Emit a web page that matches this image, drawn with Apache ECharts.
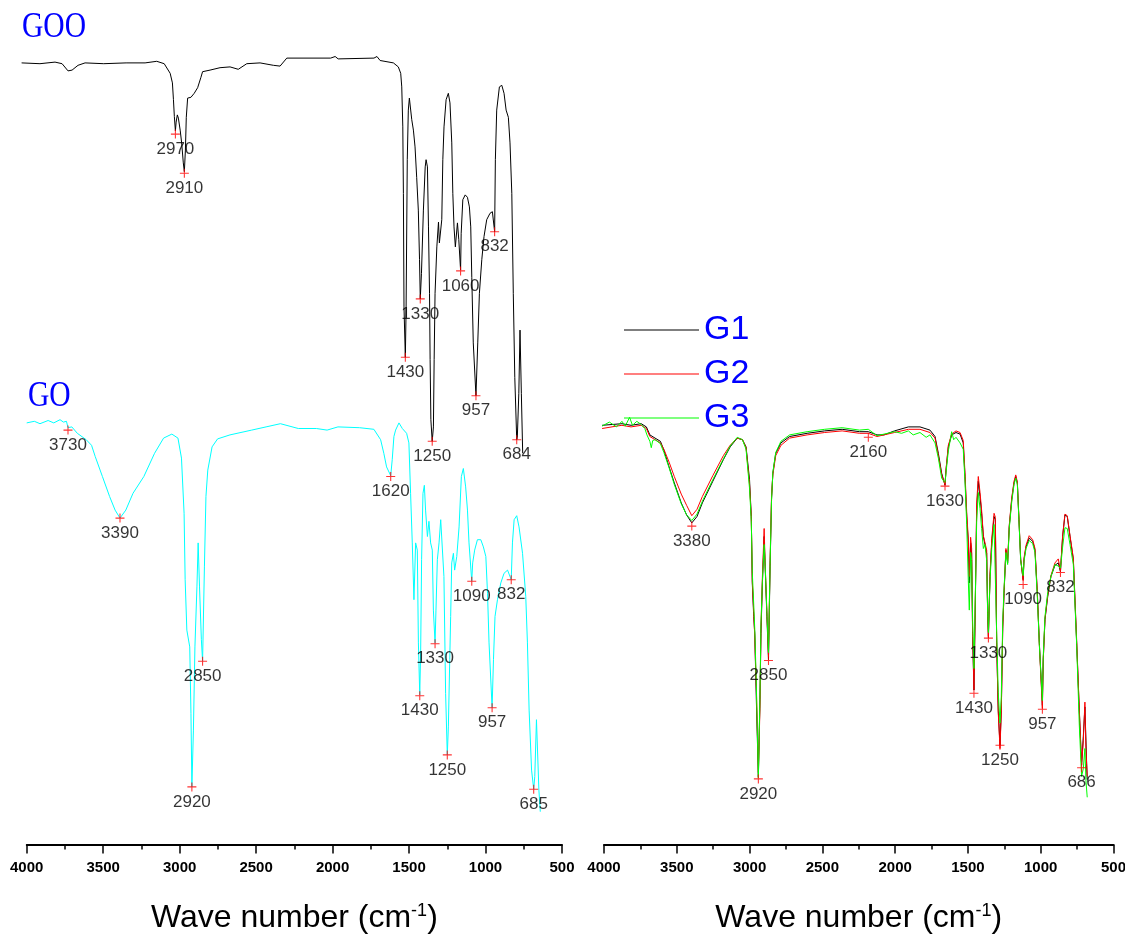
<!DOCTYPE html>
<html>
<head>
<meta charset="utf-8">
<title>FTIR spectra</title>
<script src="https://cdn.jsdelivr.net/npm/echarts@6/dist/echarts.min.js"></script>
</head>
<body style="margin:0">
<div id="main" style="width:1125px;height:938px;"></div>
<script type="text/javascript">
// spectra: [wave number (cm-1), transmittance (a.u.)]
var gooSpectrum = [[4000,97.7],[3877,97.6],[3776,97.8],[3729,97.6],[3689,96.7],[3662,96.8],[3622,97.4],[3575,97.7],[3450,97.6],[3300,97.7],[3173,97.7],[3095,97.9],[3045,97.6],[3005,96.4],[2990,95.2],[2983,93.1],[2977,91.0],[2970,89.2],[2965,90.3],[2957,91.2],[2950,90.8],[2938,89.3],[2928,87.7],[2917,85.2],[2910,84.1],[2903,86.8],[2897,90.9],[2888,93.3],[2866,93.4],[2844,93.9],[2821,94.6],[2799,95.9],[2788,96.6],[2738,96.8],[2671,97.1],[2604,97.2],[2549,96.9],[2492,97.6],[2403,97.7],[2314,97.4],[2269,97.3],[2224,98.3],[1930,98.3],[1900,98.5],[1880,98.2],[1640,98.3],[1620,98.5],[1599,98.0],[1510,97.7],[1477,97.2],[1461,96.4],[1454,94.7],[1447,89.7],[1443,81.4],[1439,67.2],[1430,60.9],[1425,66.8],[1417,85.6],[1410,91.8],[1403,93.3],[1394,93.1],[1387,90.6],[1376,89.3],[1365,87.2],[1354,83.4],[1343,79.3],[1335,73.1],[1330,68.2],[1322,71.4],[1309,79.3],[1297,84.7],[1291,85.6],[1282,84.7],[1275,77.2],[1268,68.9],[1264,60.6],[1259,53.1],[1250,50.4],[1242,52.2],[1237,60.6],[1231,68.9],[1219,74.7],[1208,77.8],[1202,75.2],[1193,75.2],[1186,78.1],[1179,85.6],[1171,89.7],[1157,93.1],[1142,93.9],[1131,92.7],[1119,87.7],[1112,81.4],[1104,77.2],[1095,74.7],[1081,77.7],[1072,75.6],[1060,71.8],[1056,76.4],[1045,80.6],[1029,81.2],[1014,80.9],[1001,79.7],[992,77.2],[985,70.9],[975,62.7],[957,56.1],[945,62.7],[934,68.9],[918,73.1],[903,76.0],[885,78.1],[863,78.9],[847,79.1],[832,76.6],[827,85.6],[818,91.8],[800,94.7],[784,94.9],[769,93.9],[755,91.8],[740,90.9],[729,87.7],[717,81.4],[707,68.9],[697,58.4],[684,50.6],[680,50.9],[670,56.4],[662,64.3],[653,56.4],[644,48.9]];

var goSpectrum = [[4000,52.7],[3950,52.9],[3913,52.6],[3860,53.0],[3823,52.7],[3782,53.1],[3760,52.8],[3740,52.9],[3730,52.1],[3705,52.2],[3669,51.4],[3611,50.6],[3576,49.9],[3552,48.5],[3505,46.0],[3458,43.5],[3422,41.8],[3390,40.8],[3352,41.8],[3305,43.9],[3234,46.0],[3164,48.9],[3105,50.8],[3051,51.3],[3011,50.8],[2988,48.3],[2971,41.4],[2964,33.1],[2953,26.8],[2934,24.7],[2926,16.4],[2920,7.2],[2910,14.3],[2900,24.7],[2887,32.2],[2879,37.7],[2870,32.2],[2858,25.6],[2850,22.9],[2838,34.7],[2828,43.5],[2816,46.8],[2788,49.7],[2752,50.7],[2671,51.2],[2529,51.8],[2435,52.2],[2341,52.6],[2224,52.0],[2106,52.0],[2036,51.8],[1965,52.2],[1824,52.1],[1730,51.9],[1686,50.6],[1665,48.9],[1647,47.2],[1620,46.1],[1610,48.1],[1599,51.0],[1588,51.8],[1566,52.7],[1544,52.0],[1516,51.4],[1501,50.2],[1490,43.9],[1479,37.7],[1468,30.6],[1457,37.7],[1446,36.8],[1439,25.2],[1430,18.7],[1424,24.3],[1418,35.6],[1409,43.9],[1400,44.9],[1392,41.8],[1380,38.5],[1370,40.4],[1359,37.7],[1348,36.8],[1341,29.3],[1330,25.2],[1324,29.3],[1315,35.6],[1304,37.7],[1293,40.6],[1282,40.6],[1272,33.5],[1261,18.9],[1250,11.2],[1243,14.7],[1234,23.1],[1228,28.5],[1221,35.2],[1210,36.4],[1202,34.3],[1188,36.0],[1173,39.7],[1158,46.0],[1145,47.0],[1130,44.7],[1118,41.8],[1108,37.7],[1090,32.9],[1084,35.2],[1071,36.8],[1053,38.1],[1031,38.1],[1014,37.2],[998,36.0],[987,31.4],[977,25.2],[957,17.1],[948,23.1],[938,28.5],[922,30.6],[900,32.7],[879,33.9],[856,34.3],[832,33.1],[824,37.7],[813,40.6],[796,41.1],[781,39.7],[758,36.4],[737,31.0],[726,25.2],[715,16.8],[699,9.3],[685,6.9],[678,8.5],[667,15.6],[660,15.6],[651,6.8],[642,4.1]];

var g1Spectrum = [[4000,52.4],[3863,52.6],[3800,52.4],[3730,52.6],[3694,52.2],[3670,51.2],[3634,50.8],[3597,50.4],[3573,49.3],[3537,47.2],[3501,45.2],[3453,42.7],[3416,41.2],[3380,40.2],[3344,41.0],[3307,42.7],[3235,45.4],[3162,48.1],[3115,49.7],[3066,50.8],[3030,50.6],[3005,49.7],[2981,45.6],[2969,41.0],[2962,32.7],[2952,28.5],[2945,26.4],[2934,18.1],[2920,8.4],[2909,18.1],[2902,26.4],[2892,32.7],[2880,38.5],[2873,34.7],[2861,28.5],[2850,23.1],[2839,34.7],[2829,43.1],[2820,46.4],[2800,48.9],[2764,50.2],[2704,51.0],[2583,51.4],[2462,51.7],[2341,51.9],[2221,51.6],[2160,51.6],[2100,51.2],[2052,51.2],[1979,51.7],[1883,52.2],[1803,52.2],[1734,51.8],[1699,51.0],[1676,48.9],[1653,46.4],[1630,44.9],[1623,46.8],[1607,49.7],[1584,51.2],[1554,51.5],[1526,51.3],[1504,50.2],[1492,46.0],[1480,41.0],[1469,37.7],[1462,32.7],[1453,37.7],[1446,36.4],[1439,26.0],[1430,19.3],[1423,27.2],[1411,41.8],[1400,45.4],[1388,43.5],[1377,41.4],[1365,38.5],[1354,38.3],[1342,36.4],[1335,28.5],[1330,26.0],[1319,33.5],[1307,37.7],[1291,41.0],[1282,40.6],[1273,25.2],[1262,16.8],[1250,12.4],[1241,16.8],[1231,27.2],[1222,31.4],[1209,36.8],[1197,35.2],[1186,39.7],[1169,43.1],[1153,45.2],[1141,46.0],[1130,45.2],[1119,40.6],[1107,35.6],[1090,33.1],[1084,35.6],[1070,37.2],[1048,38.3],[1024,37.9],[1008,36.8],[992,31.4],[978,25.2],[957,17.4],[951,23.1],[939,28.1],[920,31.0],[898,33.5],[870,34.9],[847,35.2],[832,34.1],[817,38.5],[801,41.2],[785,41.0],[766,38.5],[743,35.6],[720,25.2],[702,16.8],[686,9.9],[674,13.5],[663,17.2],[651,10.1],[647,8.1]];

var g2Spectrum = [[4000,52.0],[3900,52.3],[3863,52.4],[3800,52.2],[3730,52.4],[3694,52.0],[3670,51.0],[3634,50.6],[3597,50.2],[3573,49.4],[3537,47.8],[3501,46.0],[3453,43.8],[3416,42.4],[3380,41.1],[3344,41.9],[3307,43.5],[3235,46.1],[3162,48.6],[3115,49.9],[3066,50.8],[3030,50.6],[3005,49.6],[2981,45.0],[2969,41.0],[2962,33.0],[2952,29.0],[2945,26.0],[2934,19.5],[2920,9.0],[2909,17.0],[2902,27.0],[2892,33.5],[2880,39.5],[2873,35.0],[2861,29.0],[2850,23.5],[2839,35.5],[2829,43.5],[2820,46.2],[2800,48.6],[2764,49.9],[2704,50.8],[2583,51.2],[2462,51.5],[2341,51.7],[2221,51.4],[2160,51.4],[2100,51.0],[2052,51.2],[1979,51.5],[1883,51.9],[1803,51.9],[1734,51.5],[1699,50.8],[1676,48.6],[1653,46.2],[1630,45.0],[1623,46.9],[1607,49.9],[1584,51.3],[1554,51.7],[1526,51.5],[1504,50.5],[1492,46.5],[1480,41.5],[1469,38.2],[1462,33.5],[1453,38.4],[1446,37.0],[1439,26.5],[1430,19.4],[1423,27.5],[1411,42.7],[1400,46.0],[1388,44.0],[1377,41.8],[1365,38.6],[1354,38.8],[1342,36.8],[1335,28.8],[1330,25.8],[1319,33.8],[1307,38.2],[1291,41.4],[1282,40.9],[1273,25.4],[1262,16.5],[1250,12.0],[1241,16.5],[1231,27.0],[1222,31.5],[1209,37.0],[1197,35.4],[1186,39.9],[1169,43.3],[1153,45.4],[1141,46.2],[1130,45.3],[1119,40.8],[1107,35.7],[1090,33.0],[1084,35.8],[1070,37.4],[1048,38.6],[1024,38.1],[1008,37.0],[992,31.6],[978,25.0],[957,17.0],[951,23.0],[939,28.2],[920,31.2],[898,33.6],[870,35.2],[847,35.7],[832,34.2],[817,38.6],[801,41.3],[785,41.1],[766,38.6],[743,35.8],[720,25.5],[702,17.0],[686,10.0],[674,13.0],[663,17.8],[656,12.0],[647,8.5]];

var g3Spectrum = [[4000,52.3],[3950,52.8],[3900,52.2],[3863,52.9],[3840,52.3],[3810,53.4],[3790,52.4],[3760,52.9],[3730,52.5],[3705,52.0],[3690,51.2],[3670,50.4],[3660,49.6],[3650,50.5],[3634,50.6],[3597,50.1],[3573,49.0],[3537,47.1],[3501,45.0],[3453,42.6],[3416,41.2],[3380,40.5],[3344,41.3],[3307,42.9],[3235,45.6],[3162,48.2],[3115,49.8],[3066,50.9],[3030,50.6],[3005,49.4],[2981,44.5],[2969,40.5],[2962,34.0],[2952,30.0],[2945,27.0],[2934,20.0],[2920,8.3],[2909,18.5],[2902,27.5],[2892,33.0],[2880,37.5],[2873,35.0],[2861,29.0],[2850,24.0],[2839,35.0],[2829,43.0],[2820,46.5],[2800,49.0],[2764,50.4],[2704,51.2],[2583,51.6],[2462,51.9],[2341,52.1],[2221,51.8],[2160,51.9],[2100,51.1],[2052,51.3],[1979,51.6],[1930,51.4],[1883,51.7],[1850,51.2],[1803,51.5],[1760,50.9],[1734,51.2],[1699,50.2],[1676,48.3],[1653,45.8],[1630,45.2],[1623,46.5],[1607,49.2],[1584,51.6],[1570,50.6],[1554,50.9],[1526,50.2],[1504,49.4],[1492,45.5],[1480,40.0],[1469,33.0],[1462,29.3],[1453,36.5],[1446,35.5],[1439,28.0],[1430,22.0],[1423,28.5],[1411,40.5],[1400,44.0],[1388,42.0],[1377,39.5],[1365,37.0],[1354,37.5],[1342,35.5],[1335,29.0],[1330,26.5],[1319,33.0],[1307,37.0],[1291,40.0],[1282,40.0],[1273,26.5],[1262,19.0],[1250,15.2],[1241,18.5],[1231,28.0],[1222,32.0],[1209,36.5],[1197,35.0],[1186,39.5],[1169,42.8],[1153,45.0],[1141,45.8],[1130,45.0],[1119,40.5],[1107,35.5],[1090,33.6],[1084,35.4],[1070,37.0],[1048,38.0],[1024,37.6],[1008,36.5],[992,31.0],[978,25.0],[957,18.0],[951,23.5],[939,28.5],[920,31.5],[898,33.5],[870,35.0],[847,34.8],[832,34.5],[817,37.2],[801,39.6],[785,39.5],[766,37.5],[743,35.0],[720,25.0],[702,15.0],[686,8.5],[674,9.5],[663,12.0],[656,8.0],[647,5.9]];

// labelled peaks: wave number and the level of the red cross
var gooPeakWave = [2970, 2910, 1430, 1330, 1250, 1060, 957, 832, 684];
var gooPeakLevel = [88.8, 83.9, 60.9, 68.2, 50.4, 71.7, 56.1, 76.6, 50.6];
var goPeakWave = [3730, 3390, 2920, 2850, 1620, 1430, 1330, 1250, 1090, 957, 832, 685];
var goPeakLevel = [51.8, 40.8, 7.2, 22.9, 46.0, 18.6, 25.1, 11.2, 32.9, 17.1, 33.1, 6.9];
var gPeakWave = [3380, 2920, 2850, 2160, 1630, 1430, 1330, 1250, 1090, 957, 832, 686];
var gPeakLevel = [39.8, 8.2, 23.0, 50.9, 44.8, 18.9, 25.8, 12.4, 32.5, 16.9, 34.0, 9.6];

var xTicks = [4000, 3500, 3000, 2500, 2000, 1500, 1000, 500];

var myChart = echarts.init(document.getElementById('main'));

var sans = '"Liberation Sans", Arial, sans-serif';

function waveAxis(gridIndex, visible) {
    var axis = {
        type: 'value',
        gridIndex: gridIndex,
        inverse: true,
        min: xTicks[xTicks.length - 1],
        max: xTicks[0],
        interval: 500,
        show: visible,
        splitLine: { show: false },
        axisLine: { show: true, lineStyle: { color: '#000', width: 1.8 } },
        axisTick: { show: true, length: 9, lineStyle: { color: '#000', width: 1.5 } },
        minorTick: { show: true, splitNumber: 2, length: 5, lineStyle: { color: '#000', width: 1.5 } },
        axisLabel: {
            margin: 16,
            color: '#000',
            fontSize: 15,
            fontWeight: 'bold',
            fontFamily: sans,
            formatter: function (v) { return String(v); }
        }
    };
    if (visible) {
        axis.name = '{a|Wave number (cm}{s|-1}{a|)}';
        axis.nameLocation = 'middle';
        axis.nameGap = 58;
        axis.nameTextStyle = {
            rich: {
                a: { fontSize: 32, fontFamily: sans, color: '#000' },
                s: { fontSize: 18, fontFamily: sans, color: '#000', verticalAlign: 'top' }
            }
        };
    }
    return axis;
}

function levelAxis(gridIndex) {
    return { type: 'value', gridIndex: gridIndex, min: 0, max: 100, show: false };
}

function spectrum(name, data, color, axisIndex) {
    return {
        name: name,
        type: 'line',
        data: data,
        xAxisIndex: axisIndex,
        yAxisIndex: axisIndex,
        symbol: 'none',
        lineStyle: { color: color, width: 1 },
        itemStyle: { color: color },
        silent: true
    };
}

function peaks(waves, levels, axisIndex) {
    return {
        type: 'scatter',
        xAxisIndex: axisIndex,
        yAxisIndex: axisIndex,
        symbol: 'path://M4.4,0h1.2v4.4h4.4v1.2h-4.4v4.4h-1.2v-4.4h-4.4v-1.2h4.4z',
        symbolSize: 9,
        itemStyle: { color: '#ff0000' },
        label: {
            show: true,
            position: 'bottom',
            distance: 2,
            color: '#000',
            fontSize: 17,
            fontFamily: sans,
            formatter: function (p) { return p.name; }
        },
        data: waves.map(function (w, i) {
            return { name: String(w), value: [w, levels[i]] };
        }),
        z: 5
    };
}

var option = {
    animation: false,
    backgroundColor: '#fff',
    textStyle: { fontFamily: sans },
    grid: [
        { left: 26.7, top: 44.5, width: 535.3, height: 800, outerBoundsMode: 'none' },
        { left: 21.6, top: 44.5, width: 522.6, height: 800, outerBoundsMode: 'none' },
        { left: 604, top: 44.5, width: 509.5, height: 800, outerBoundsMode: 'none' },
        { left: 602.1, top: 44.5, width: 506.4, height: 800, outerBoundsMode: 'none' }
    ],
    xAxis: [waveAxis(0, true), waveAxis(1, false), waveAxis(2, true), waveAxis(3, false)],
    yAxis: [levelAxis(0), levelAxis(1), levelAxis(2), levelAxis(3)],
    legend: {
        data: ['G1', 'G2', 'G3'],
        orient: 'vertical',
        left: 619,
        top: 308,
        icon: 'rect',
        itemWidth: 75,
        itemHeight: 1.2,
        itemGap: 10,
        textStyle: { fontSize: 34, color: '#0000ff', fontFamily: sans },
        selectedMode: false
    },
    graphic: [
        { type: 'text', x: 22, y: 28, scaleX: 0.82,
          style: { text: 'GOO', fill: '#0000ff', fontSize: 36, fontFamily: '"Liberation Serif", serif', verticalAlign: 'middle' } },
        { type: 'text', x: 28, y: 397, scaleX: 0.82,
          style: { text: 'GO', fill: '#0000ff', fontSize: 36, fontFamily: '"Liberation Serif", serif', verticalAlign: 'middle' } }
    ],
    series: [
        spectrum('GOO', gooSpectrum, '#000000', 1),
        spectrum('GO', goSpectrum, '#00ffff', 0),
        spectrum('G1', g1Spectrum, '#000000', 3),
        spectrum('G2', g2Spectrum, '#ff0000', 3),
        spectrum('G3', g3Spectrum, '#00ff00', 3),
        peaks(gooPeakWave, gooPeakLevel, 1),
        peaks(goPeakWave, goPeakLevel, 0),
        peaks(gPeakWave, gPeakLevel, 3)
    ]
};

myChart.setOption(option);
</script>
</body>
</html>
